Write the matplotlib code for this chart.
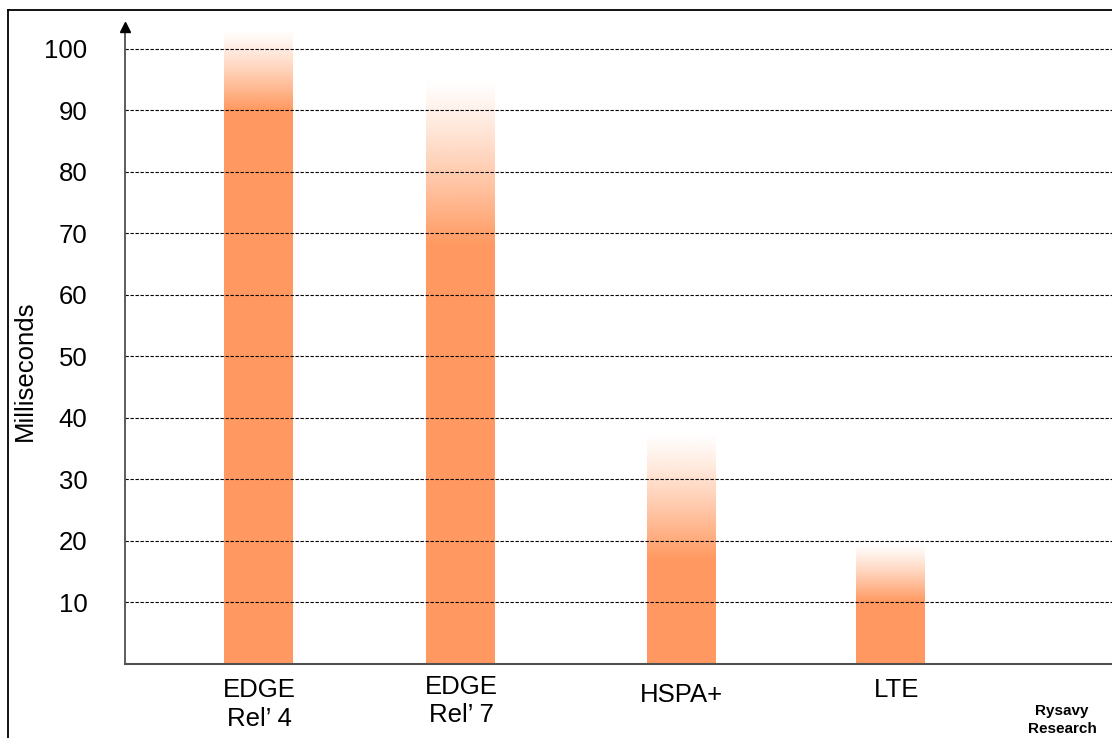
import numpy as np
import matplotlib.pyplot as plt
from matplotlib.lines import Line2D

plt.rcParams['font.family'] = ['Liberation Sans', 'DejaVu Sans']

# data
categories = ["EDGE\nRel\u2019 4", "EDGE\nRel\u2019 7", "HSPA+", "LTE"]
solid_to = [90, 68, 17, 10]        # latency where bar is fully coloured
fade_to = [103, 95, 37.5, 19.5]    # latency where the fade ends
yticks = [10, 20, 30, 40, 50, 60, 70, 80, 90, 100]

# layout (pixel-like x units from the y axis)
xpos = [133.5, 335.5, 556, 765]
label_x = [134, 336, 556, 772]
bar_w = 69
label_y = [-6.6, -6.0, -5.0, -4.3]
bar_color = (1.0, 0.6, 0.38)

fig = plt.figure(figsize=(11.12, 7.38), dpi=100)
ax = fig.add_axes([125 / 1112, 74 / 738, 1 - 125 / 1112, (664 - 27) / 738])

for x, lo, hi in zip(xpos, solid_to, fade_to):
    ax.bar(x, lo, width=bar_w, color=bar_color, zorder=1)
    n = 200
    a = np.linspace(1, 0, n) ** 1.2
    img = np.zeros((n, 1, 4))
    img[:, 0, :3] = bar_color
    img[:, 0, 3] = a
    ax.imshow(img, extent=[x - bar_w / 2, x + bar_w / 2, lo, hi],
              origin='lower', aspect='auto', interpolation='bilinear', zorder=1)

ax.set_xlim(0, 987)
ax.set_ylim(0, 103.5)

ax.set_yticks(yticks)
ax.set_yticklabels([str(t) for t in yticks], fontsize=18.5)
ax.tick_params(axis='y', length=0, pad=27)
ax.set_xticks([])
for y in yticks:
    ax.axhline(y, color='black', linestyle=(0, (3, 1.5)), linewidth=0.8, zorder=2)

for x, lab, ly in zip(label_x, categories, label_y):
    ax.text(x, ly, lab, ha='center', va='center', fontsize=18.5,
            linespacing=1.25, clip_on=False)

ax.set_ylabel("Milliseconds", fontsize=18.5)
ax.yaxis.set_label_coords(-88 / 987, 0.46)

for s in ['top', 'right']:
    ax.spines[s].set_visible(False)
ax.spines['left'].set_color('#505050')
ax.spines['bottom'].set_color('#505050')
ax.spines['left'].set_linewidth(1.3)
ax.spines['bottom'].set_linewidth(1.5)
ax.plot(0, 1, marker='^', color='black', markersize=7, transform=ax.transAxes,
        clip_on=False, zorder=5)

fig.text(1062 / 1112, 1 - 720 / 738, "Rysavy\nResearch", ha='center', va='center',
         fontsize=11, fontweight='bold', linespacing=1.45)

# outer frame
fig.add_artist(Line2D([8 / 1112, 1], [1 - 10 / 738, 1 - 10 / 738], color='black', linewidth=1.3))
fig.add_artist(Line2D([8 / 1112, 8 / 1112], [0, 1 - 10 / 738], color='black', linewidth=1.3))

fig.savefig("out.png", dpi=100)
